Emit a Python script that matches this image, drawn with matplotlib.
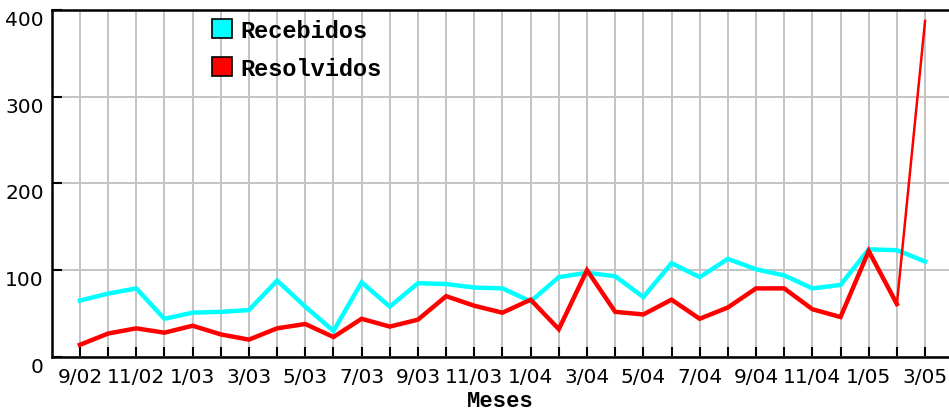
import matplotlib
matplotlib.use("Agg")
from matplotlib import pyplot as plt
from matplotlib.patches import Patch

meses = ['9/02', '10/02', '11/02', '12/02', '1/03', '2/03', '3/03', '4/03',
         '5/03', '6/03', '7/03', '8/03', '9/03', '10/03', '11/03', '12/03',
         '1/04', '2/04', '3/04', '4/04', '5/04', '6/04', '7/04', '8/04',
         '9/04', '10/04', '11/04', '12/04', '1/05', '2/05', '3/05']
recebidos = [65, 73, 79, 44, 51, 52, 54, 88, 58, 30, 86, 58, 85, 84, 80, 79,
             64, 92, 97, 93, 69, 108, 92, 113, 101, 94, 79, 83, 124, 123, 110]
resolvidos = [14, 27, 33, 28, 36, 26, 20, 33, 38, 23, 44, 35, 43, 70, 59, 51,
              66, 32, 100, 52, 49, 66, 44, 57, 79, 79, 55, 46, 122, 61, 387]

x = list(range(len(meses)))

fig = plt.figure(figsize=(9.49, 4.14), dpi=100)
ax = fig.add_axes([0.0548, 0.1353, 0.9452, 0.8389])

ax.plot(x, recebidos, color='#00ffff', lw=3.2, solid_joinstyle='miter', zorder=3)
# the steep last jump is drawn thin in the original
ax.plot(x[:-1], resolvidos[:-1], color='#ff0000', lw=3.2,
        solid_joinstyle='miter', zorder=4)
ax.plot(x[-2:], resolvidos[-2:], color='#ff0000', lw=1.8, zorder=4)

ax.set_xlim(-0.99, 30.85)
ax.set_ylim(0, 400)
ax.set_xticks(x)
ax.set_xticklabels([m if i % 2 == 0 else '' for i, m in enumerate(meses)])
ax.set_yticks([0, 100, 200, 300, 400])

ax.grid(True, color='#c4c4c4', lw=1.4, zorder=0)
ax.tick_params(direction='in', length=7, width=1.5, color='black',
               labelsize=14.5, pad=7)
ax.tick_params(axis='y', pad=6)
for lbl in ax.get_yticklabels():
    lbl.set_verticalalignment('top')

for side in ['left', 'bottom', 'top']:
    ax.spines[side].set_linewidth(1.8)
ax.spines['right'].set_visible(False)

ax.set_xlabel('Meses', fontfamily='Liberation Mono', fontweight='bold',
              fontsize=16, labelpad=3)

handles = [Patch(facecolor='#00ffff', edgecolor='black', lw=1.2),
           Patch(facecolor='#ff0000', edgecolor='black', lw=1.2)]
leg = ax.legend(handles, ['Recebidos', 'Resolvidos'], loc='upper left',
                bbox_to_anchor=(212 / 949, 1 - 20 / 414),
                bbox_transform=fig.transFigure, frameon=False,
                borderpad=0, borderaxespad=0, handlelength=0.85,
                handleheight=0.85, handletextpad=0.35, labelspacing=0.62,
                prop={'family': 'Liberation Mono', 'weight': 'bold', 'size': 17})

plt.savefig('out.png', dpi=100)
